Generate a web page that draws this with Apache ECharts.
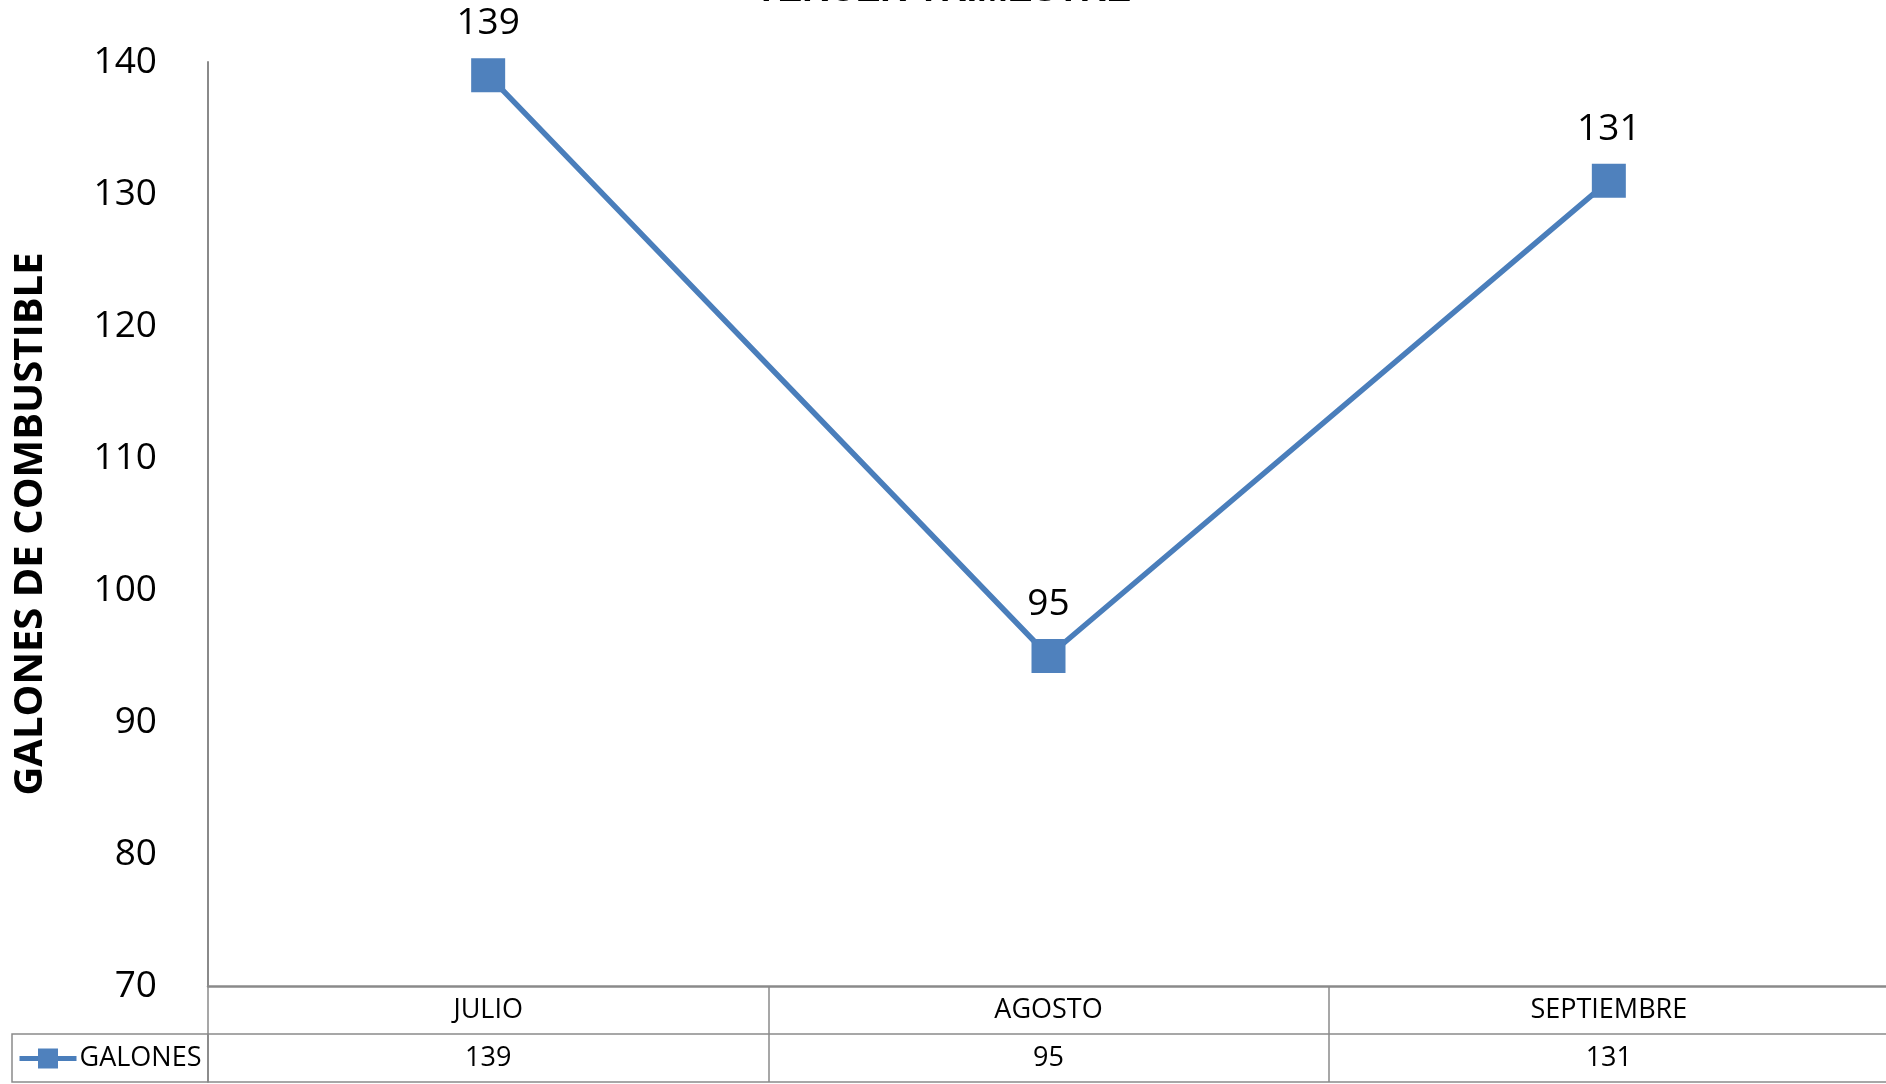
<!DOCTYPE html>
<html>
<head>
<meta charset="utf-8">
<script src="https://cdn.jsdelivr.net/npm/echarts@6/dist/echarts.min.js"></script>
<style>
html,body{margin:0;padding:0;background:#fff;}
#chart{width:1886px;height:1084px;}
</style>
</head>
<body>
<div id="chart"></div>
<script>
const titleText = 'TERCER TRIMESTRE';
const yAxisName = 'GALONES DE COMBUSTIBLE';
const seriesName = 'GALONES';
const categories = ['JULIO', 'AGOSTO', 'SEPTIEMBRE'];
const galones = [139, 95, 131];
const yTicks = [70, 80, 90, 100, 110, 120, 130, 140];

const FONT = "'Open Sans', 'Noto Sans', sans-serif";
const GRAY = '#8a8a8a';
const BLUE = '#4F81BD';

const chart = echarts.init(document.getElementById('chart'));
chart.setOption({
  animation: false,
  backgroundColor: '#ffffff',
  title: {
    text: titleText,
    left: 'center',
    top: -28,
    padding: 0,
    textStyle: { fontFamily: "'Liberation Sans', Arial, sans-serif", fontWeight: 'bold', fontSize: 37, color: '#000' }
  },
  legend: {
    data: [seriesName],
    left: 17,
    top: 1045,
    padding: 0,
    itemWidth: 57,
    itemHeight: 25,
    itemGap: 0,
    lineStyle: { width: 5, color: '#4A7EBB' },
    textStyle: { fontFamily: FONT, fontSize: 27, color: '#000', padding: [0, 0, 0, -2] }
  },
  grid: [
    { left: 208, right: -3, top: 62, bottom: 98, show: false, containLabel: false, outerBoundsMode: 'none' },
    { left: 208, right: -3, top: 1034, height: 48, show: true, borderColor: GRAY, borderWidth: 1.5, backgroundColor: 'transparent', containLabel: false, outerBoundsMode: 'none' },
    { left: 12, top: 1034, width: 196, height: 48, show: true, borderColor: GRAY, borderWidth: 1.5, backgroundColor: 'transparent', containLabel: false, outerBoundsMode: 'none' }
  ],
  xAxis: [
    {
      gridIndex: 0,
      type: 'category',
      data: categories,
      boundaryGap: true,
      axisLine: { show: true, lineStyle: { color: GRAY, width: 2.5 } },
      axisTick: { show: true, interval: 0, length: 48, lineStyle: { color: GRAY, width: 1.5 } },
      axisLabel: { interval: 0, margin: 10, fontFamily: FONT, fontSize: 27, color: '#000', lineHeight: 28 }
    },
    {
      gridIndex: 1,
      type: 'category',
      data: categories,
      boundaryGap: true,
      position: 'bottom',
      axisLine: { show: false },
      axisTick: { show: true, inside: true, interval: 0, length: 48, lineStyle: { color: GRAY, width: 1.5 } },
      axisLabel: {
        interval: 0, inside: true, margin: 10, fontFamily: FONT, fontSize: 27, color: '#000', lineHeight: 28,
        formatter: function (v, i) { return String(galones[i]); }
      }
    },
    { gridIndex: 2, type: 'value', show: false }
  ],
  yAxis: [
    {
      gridIndex: 0,
      type: 'value',
      min: yTicks[0],
      max: yTicks[yTicks.length - 1],
      interval: 10,
      name: yAxisName,
      nameLocation: 'middle',
      nameRotate: 90,
      nameGap: 157,
      nameTextStyle: { fontFamily: FONT, fontWeight: 'bold', fontSize: 40, color: '#000' },
      axisLine: { show: true, lineStyle: { color: GRAY, width: 2 } },
      axisTick: { show: false },
      splitLine: { show: false },
      axisLabel: { margin: 51, fontFamily: FONT, fontSize: 37, color: '#000' }
    },
    { gridIndex: 1, type: 'value', show: false },
    { gridIndex: 2, type: 'value', show: false }
  ],
  series: [
    {
      name: seriesName,
      type: 'line',
      xAxisIndex: 0,
      yAxisIndex: 0,
      data: galones,
      symbol: 'rect',
      symbolSize: 34,
      lineStyle: { color: '#4A7EBB', width: 5.5 },
      itemStyle: { color: BLUE },
      label: { show: true, position: 'top', distance: 16, fontFamily: FONT, fontSize: 37, color: '#000' }
    }
  ]
});
</script>
</body>
</html>
